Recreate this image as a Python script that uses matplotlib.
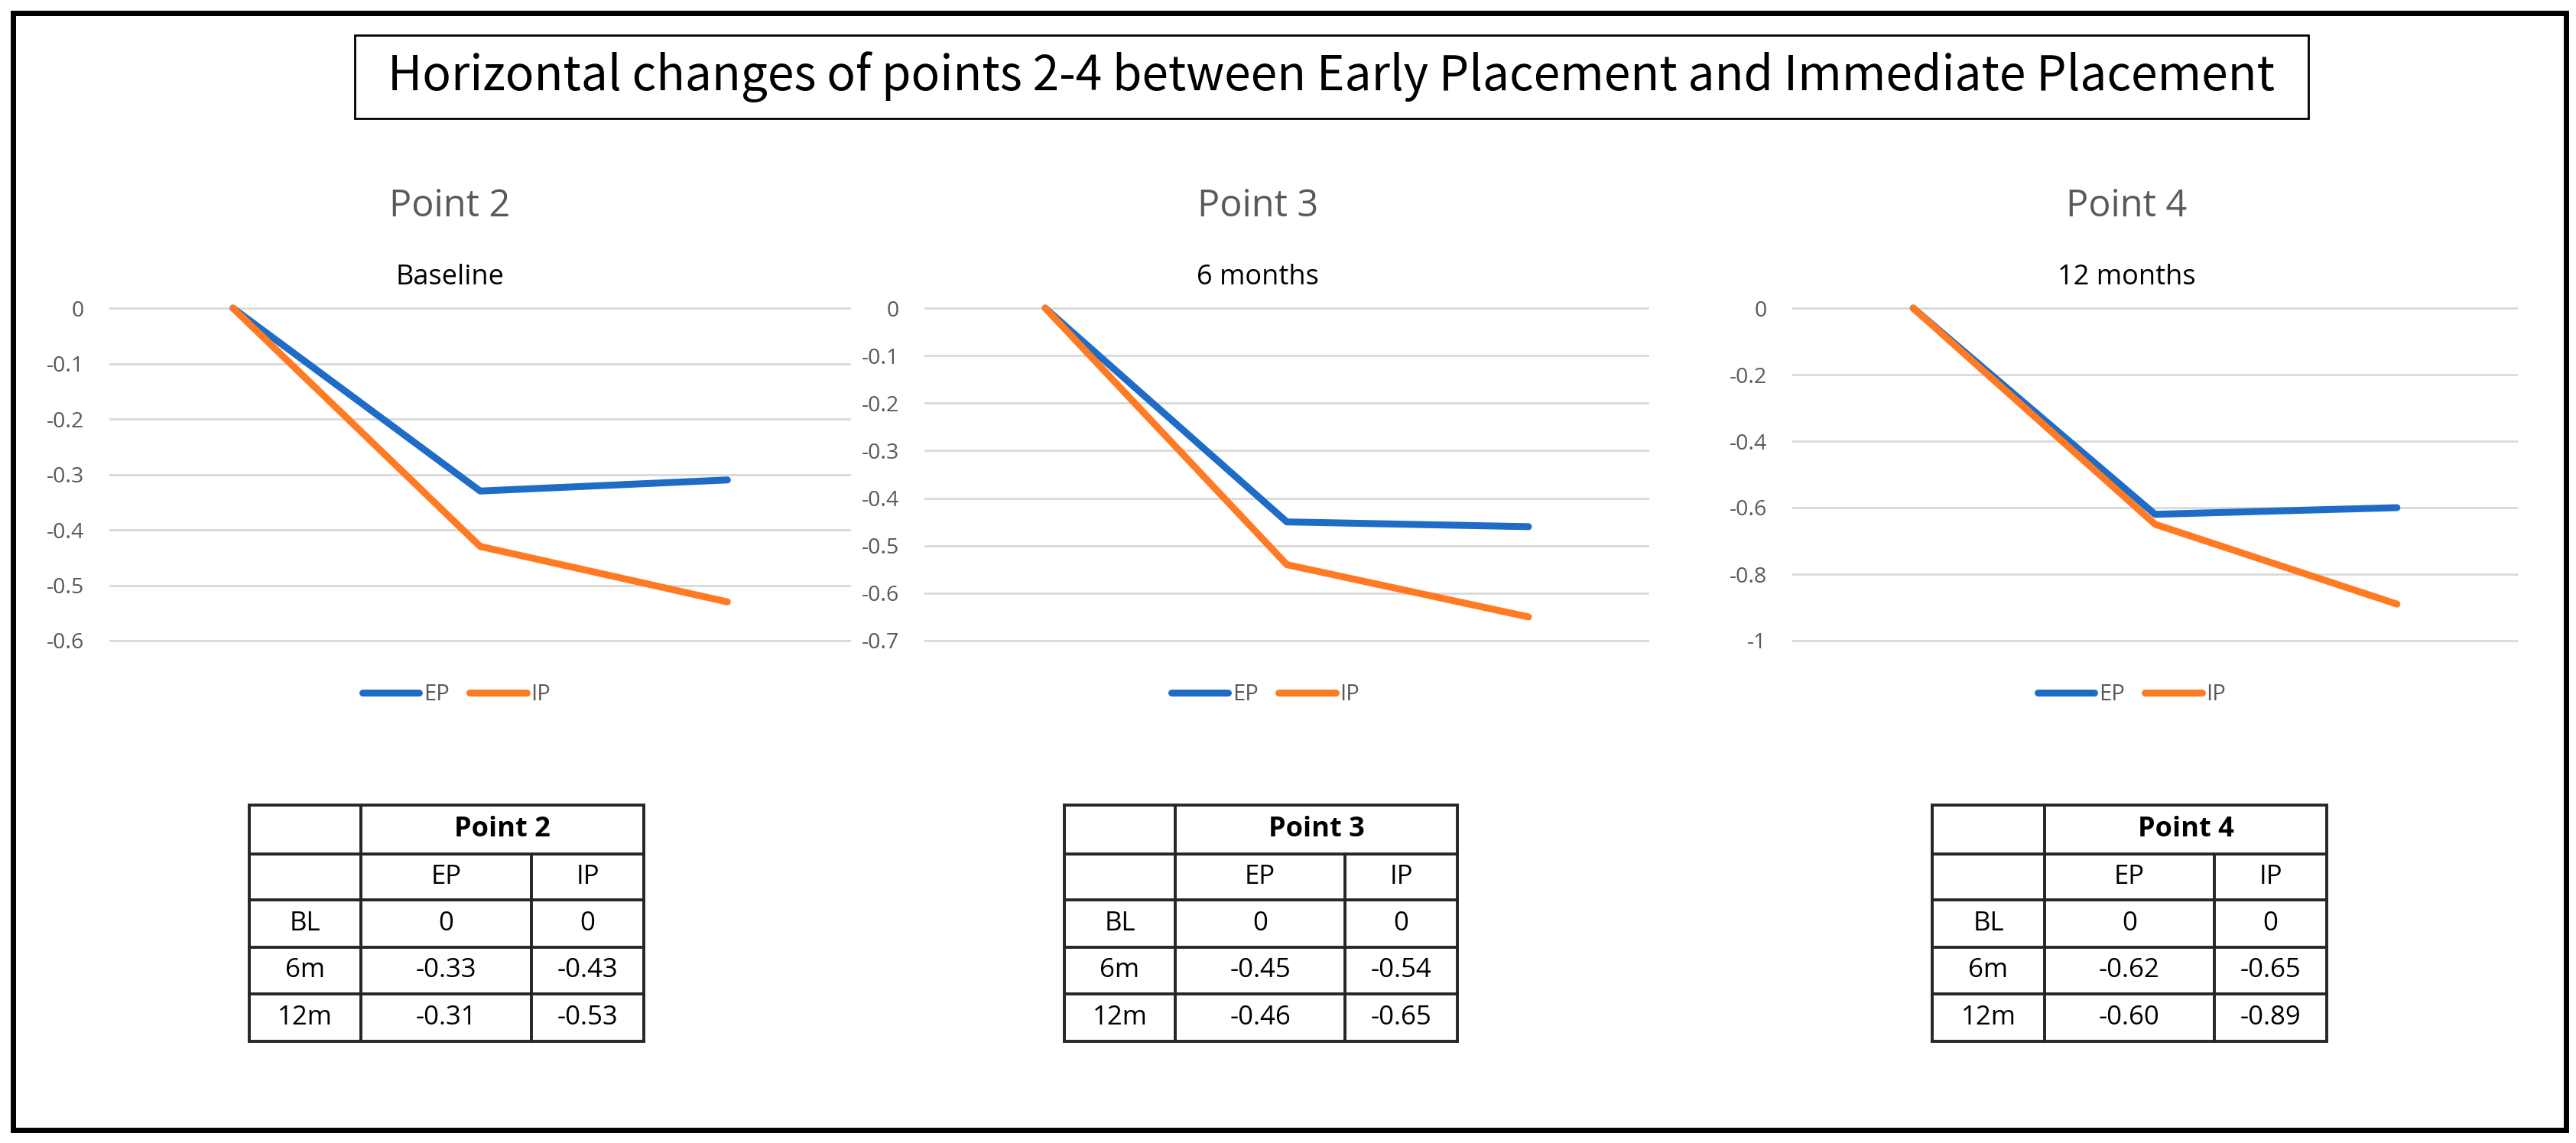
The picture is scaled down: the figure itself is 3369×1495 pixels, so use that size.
import matplotlib
matplotlib.use("Agg")
import matplotlib.pyplot as plt
from matplotlib.patches import Rectangle
from matplotlib.lines import Line2D

plt.rcParams['font.family'] = ['Open Sans', 'DejaVu Sans']

# ---------------- data ----------------
main_title = "Horizontal changes of points 2-4 between Early Placement and Immediate Placement"
panel_titles = ["Point 2", "Point 3", "Point 4"]
chart_titles = ["Baseline", "6 months", "12 months"]
categories = ["BL", "6m", "12m"]
series_names = ["EP", "IP"]

ep_p2 = [0, -0.33, -0.31]
ip_p2 = [0, -0.43, -0.53]
ep_p3 = [0, -0.45, -0.46]
ip_p3 = [0, -0.54, -0.65]
ep_p4 = [0, -0.62, -0.60]
ip_p4 = [0, -0.65, -0.89]

yticks_p2 = [0, -0.1, -0.2, -0.3, -0.4, -0.5, -0.6]
yticks_p3 = [0, -0.1, -0.2, -0.3, -0.4, -0.5, -0.6, -0.7]
yticks_p4 = [0, -0.2, -0.4, -0.6, -0.8, -1]
ylabels_p2 = ["0", "-0.1", "-0.2", "-0.3", "-0.4", "-0.5", "-0.6"]
ylabels_p3 = ["0", "-0.1", "-0.2", "-0.3", "-0.4", "-0.5", "-0.6", "-0.7"]
ylabels_p4 = ["0", "-0.2", "-0.4", "-0.6", "-0.8", "-1"]

# ---------------- layout helpers ----------------
W, H = 3369, 1495
DPI = 100
fig = plt.figure(figsize=(W / DPI, H / DPI), dpi=DPI)
fig.patch.set_facecolor("white")


def fx(x):
    return x / W


def fy(y):
    return 1 - y / H


BLUE = "#1F6CC8"
ORANGE = "#FF7A22"
GRID = "#D9D9D9"
TICK = "#595959"

# outer border
fig.add_artist(Rectangle((fx(17), fy(1478)), fx(3356) - fx(17), fy(17) - fy(1478),
                         transform=fig.transFigure, fill=False, ec="black", lw=5))
# title box
fig.add_artist(Rectangle((fx(464), fy(155)), fx(3019) - fx(464), fy(46) - fy(155),
                         transform=fig.transFigure, fill=False, ec="black", lw=2))
t = fig.text(fx(1741), fy(101), main_title, ha="center", va="center",
             fontsize=40, color="black", family=["Noto Sans CJK KR", "DejaVu Sans"])
renderer = fig.canvas.get_renderer()
bb = t.get_window_extent(renderer)
t.set_fontsize(40 * 2470 / bb.width)

panels = [
    dict(ep=ep_p2, ip=ip_p2, ticks=yticks_p2, labels=ylabels_p2, L=143, R=1113,
         tc=588, lc=597),
    dict(ep=ep_p3, ip=ip_p3, ticks=yticks_p3, labels=ylabels_p3, L=1209, R=2157,
         tc=1645, lc=1655),
    dict(ep=ep_p4, ip=ip_p4, ticks=yticks_p4, labels=ylabels_p4, L=2344, R=3293,
         tc=2781, lc=2788),
]

TOP, BOT = 403, 838
for i, p in enumerate(panels):
    ymin = min(p["ticks"])
    rng = -ymin
    m = 0.04
    pxu = (BOT - TOP) / rng
    top_px = TOP - m * rng * pxu
    bot_px = BOT + m * rng * pxu
    ax = fig.add_axes([fx(p["L"]), fy(bot_px), fx(p["R"]) - fx(p["L"]), fy(top_px) - fy(bot_px)])
    ax.set_facecolor("none")
    ax.set_xlim(-0.5, len(categories) - 0.5)
    ax.set_ylim(ymin - m * rng, m * rng)
    for s in ax.spines.values():
        s.set_visible(False)
    ax.set_yticks(p["ticks"])
    ax.set_yticklabels(p["labels"], fontsize=20.5, color=TICK)
    ax.tick_params(axis="y", length=0, pad=24)
    ax.set_xticks([])
    ax.yaxis.grid(True, color=GRID, lw=2)
    ax.set_axisbelow(True)
    x = list(range(len(categories)))
    ax.plot(x, p["ep"], color=BLUE, lw=6.5, solid_capstyle="round", solid_joinstyle="round",
            label=series_names[0])
    ax.plot(x, p["ip"], color=ORANGE, lw=6.5, solid_capstyle="round", solid_joinstyle="round",
            label=series_names[1])

    fig.text(fx(p["tc"]), fy(270), panel_titles[i], ha="center", va="center",
             fontsize=35, color=TICK)
    fig.text(fx(p["tc"]), fy(363), chart_titles[i], ha="center", va="center",
             fontsize=26, color="black")

    handles = [Line2D([], [], color=BLUE, lw=6.5, solid_capstyle="round"),
               Line2D([], [], color=ORANGE, lw=6.5, solid_capstyle="round")]
    fig.legend(handles, series_names, loc="center", bbox_to_anchor=(fx(p["lc"]), fy(909)),
               ncol=2, frameon=False, fontsize=21, labelcolor=TICK, handlelength=2.55,
               handletextpad=0.2, columnspacing=0.9, borderaxespad=0, borderpad=0)

# ---------------- tables ----------------
tables_x = [[326, 472, 695, 842], [1392, 1537, 1759, 1906], [2527, 2674, 2896, 3043]]
tys = [1053, 1117, 1177, 1239, 1300, 1362]
TBL = "#262626"


def line(x0, y0, x1, y1):
    fig.add_artist(Line2D([fx(x0), fx(x1)], [fy(y0), fy(y1)], transform=fig.transFigure,
                          color=TBL, lw=2.8, solid_capstyle="projecting"))


def fmt(v):
    return "0" if v == 0 else f"{v:.2f}"


for i, p in enumerate(panels):
    xs = tables_x[i]
    for y in tys:
        line(xs[0], y, xs[3], y)
    line(xs[0], tys[0], xs[0], tys[-1])
    line(xs[1], tys[0], xs[1], tys[-1])
    line(xs[3], tys[0], xs[3], tys[-1])
    line(xs[2], tys[1], xs[2], tys[-1])
    cy = [(tys[k] + tys[k + 1]) / 2 for k in range(len(tys) - 1)]
    fig.text(fx((xs[1] + xs[3]) / 2), fy(cy[0]), panel_titles[i], ha="center", va="center",
             fontsize=26, fontweight="bold", color="black")
    fig.text(fx((xs[1] + xs[2]) / 2), fy(cy[1]), series_names[0], ha="center", va="center",
             fontsize=25, color="black")
    fig.text(fx((xs[2] + xs[3]) / 2), fy(cy[1]), series_names[1], ha="center", va="center",
             fontsize=25, color="black")
    for r, cat in enumerate(categories):
        fig.text(fx((xs[0] + xs[1]) / 2), fy(cy[2 + r]), cat, ha="center", va="center",
                 fontsize=25, color="black")
        fig.text(fx((xs[1] + xs[2]) / 2), fy(cy[2 + r]), fmt(p["ep"][r]), ha="center",
                 va="center", fontsize=25, color="black")
        fig.text(fx((xs[2] + xs[3]) / 2), fy(cy[2 + r]), fmt(p["ip"][r]), ha="center",
                 va="center", fontsize=25, color="black")

fig.savefig("out.png", dpi=DPI, facecolor="white")
